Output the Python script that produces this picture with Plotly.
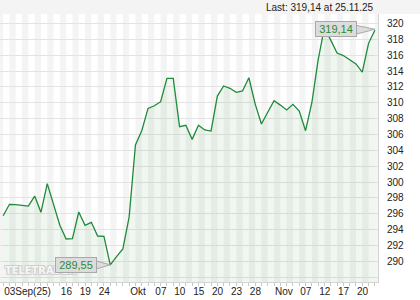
import plotly.graph_objects as go

# ---- data ----
dates = (
    ["03.09", "04.09", "05.09", "08.09", "09.09", "10.09", "11.09", "12.09", "15.09", "16.09",
     "17.09", "18.09", "19.09", "22.09", "23.09", "24.09", "25.09", "26.09", "29.09", "30.09"]
    + ["01.10", "02.10", "03.10", "06.10", "07.10", "08.10", "09.10", "10.10", "13.10", "14.10",
       "15.10", "16.10", "17.10", "20.10", "21.10", "22.10", "23.10", "24.10", "27.10", "28.10",
       "29.10", "30.10", "31.10"]
    + ["03.11", "04.11", "05.11", "06.11", "07.11", "10.11", "11.11", "12.11", "13.11", "14.11",
       "17.11", "18.11", "19.11", "20.11", "21.11", "24.11", "25.11"]
)
prices = [
    295.75, 297.19, 297.15, 297.10, 296.97, 298.23, 296.18, 299.79, 297.00, 294.54,
    292.81, 292.85, 296.22, 294.54, 294.92, 293.19, 293.15, 289.55, 290.60, 291.55,
    295.60, 304.67, 306.47, 309.29, 309.62, 310.13, 313.08, 313.08, 306.97, 307.15,
    305.38, 307.15, 306.56, 306.43, 310.84, 312.11, 311.82, 311.31, 311.48, 313.15,
    309.86, 307.31, 308.80, 310.25, 309.70, 309.08, 309.80, 308.95, 306.47, 310.00,
    315.40, 319.50, 317.90, 316.27, 315.95, 315.40, 314.90, 313.87, 317.49, 319.14,
]
tick_dates = ["03.09", "16.09", "19.09", "24.09", "01.10", "07.10", "10.10", "15.10", "20.10",
              "23.10", "28.10", "03.11", "07.11", "12.11", "17.11", "20.11"]
tick_labels = ["03Sep(25)", "16", "19", "24", "Okt", "07", "10", "15", "20",
               "23", "28", "Nov", "07", "12", "17", "20"]
y_ticks = list(range(288, 321, 2))
y_ticklabels = ["" if v == 288 else str(v) for v in y_ticks]
last_text = "Last: 319,14 at 25.11.25"

idx = list(range(len(dates)))
tick_idx = [dates.index(d) for d in tick_dates]

def fmt(v):
    return f"{v:.2f}".replace(".", ",")

fig = go.Figure()
fig.add_trace(go.Scatter(
    x=idx, y=prices, mode="lines",
    line=dict(color="#1f8a3a", width=1.3),
    fill="tozeroy", fillcolor="rgba(40,130,40,0.07)",
    hoverinfo="skip",
))

# alternating day stripes
for k in range(0, len(idx), 2):
    fig.add_shape(type="rect", xref="x", yref="paper", x0=k, x1=k + 1, y0=0, y1=1,
                  fillcolor="white", line_width=0, layer="below")

# header band
fig.add_shape(type="rect", xref="paper", yref="paper", x0=0, x1=420 / 378, y0=1, y1=1 + 14 / 268,
              fillcolor="#f4f4f4", line_width=0, layer="below")

# watermark (drawn first, under the value boxes)
fig.add_annotation(xref="paper", yref="paper", x=41 / 378, y=12 / 268, xanchor="center",
                   yanchor="middle", text="TELETRADER", showarrow=False,
                   font=dict(size=11, color="#f6f6f6",
                             family="Liberation Sans Narrow, DejaVu Sans Condensed, Liberation Sans",
                             weight="bold",
                             shadow="1px 1px 0 #cfcfcf, -1px -1px 0 #cfcfcf, 1px -1px 0 #cfcfcf, -1px 1px 0 #cfcfcf"))

# min and last labels
imin = prices.index(min(prices))
ilast = len(prices) - 1
for i, shift, tri in [(imin, -13, "M0,0 L-14,4 L-14,-4 Z"), (ilast, -18, "M0,1 L-19,5 L-19,-4 Z")]:
    fig.add_shape(type="path", xref="x", yref="y", xsizemode="pixel", ysizemode="pixel",
                  xanchor=i, yanchor=prices[i], path=tri,
                  fillcolor="#dcdcdc", line=dict(color="#a9a9a9", width=1))
    fig.add_annotation(x=i, y=prices[i], xref="x", yref="y", text=fmt(prices[i]),
                       showarrow=False, xanchor="right", yanchor="middle", xshift=shift,
                       yshift=1 if i == ilast else 0,
                       bgcolor="#dcdcdc", bordercolor="#a9a9a9", borderwidth=1, borderpad=1,
                       width=38, height=12,
                       font=dict(color="#2a8a3a", size=11, family="Liberation Sans, Arial"))

fig.add_annotation(xref="paper", yref="paper", x=1, y=1, xanchor="right", yanchor="middle",
                   yshift=7, xshift=-2, text=last_text, showarrow=False,
                   font=dict(size=10, color="#222", family="Liberation Sans, Arial"))

fig.update_layout(
    width=420, height=300,
    margin=dict(l=0, r=42, t=14, b=18, pad=0, autoexpand=False),
    paper_bgcolor="white", plot_bgcolor="#f4f4f4",
    showlegend=False,
    font=dict(family="Liberation Sans, Arial", size=10, color="#222"),
    xaxis=dict(
        range=[-0.5, len(idx) - 0.5],
        tickmode="array", tickvals=tick_idx, ticktext=tick_labels,
        ticks="outside", ticklen=3, tickcolor="#c8c8c8",
        ticklabelposition="outside right", tickangle=0, automargin=False,
        minor=dict(tickmode="linear", tick0=0, dtick=1, ticks="outside", ticklen=3,
                   tickcolor="#c8c8c8", showgrid=False),
        showgrid=False, zeroline=False,
        showline=True, linecolor="#d4d4d4", linewidth=1,
    ),
    yaxis=dict(
        side="right", range=[287.39, 321.19],
        tickmode="array", tickvals=y_ticks, ticktext=y_ticklabels,
        ticks="", ticklabelstandoff=6, automargin=False,
        showgrid=True, gridcolor="#e3e3e3", gridwidth=1,
        zeroline=False, showline=True, linecolor="#d4d4d4", linewidth=1,
    ),
)

fig.write_html("out.html")
